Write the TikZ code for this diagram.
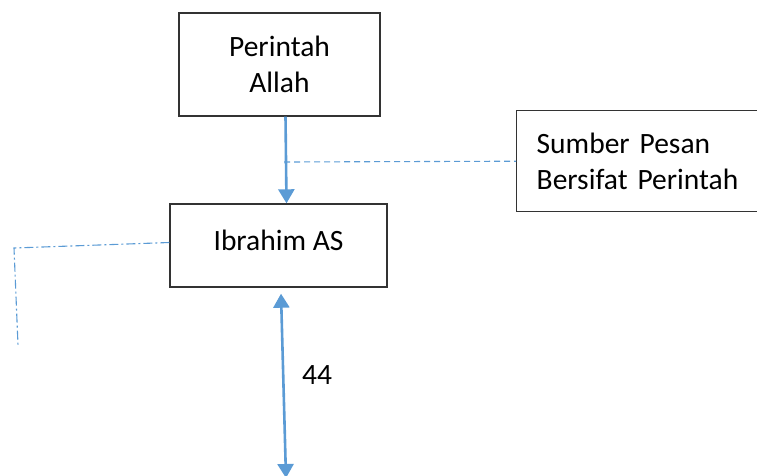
\documentclass[tikz,border=0pt]{standalone}
\usepackage{fontspec}
\setmainfont{Carlito}
\usetikzlibrary{arrows.meta}
\definecolor{garisbiru}{HTML}{5B9BD5}
\tikzset{>={Triangle[width=16pt,length=14pt]}}
\tikzset{
    kotak/.style={draw=black!80, line width=1.4pt, font=\fontsize{29.5}{36}\selectfont},
    panah/.style={draw=garisbiru, line width=2.6pt},
    putus/.style={draw=garisbiru, line width=1.1pt, dash pattern=on 6pt off 4pt},
    titikputus/.style={draw=garisbiru, line width=1.1pt, dash pattern=on 9pt off 3pt on 2pt off 3pt}
}

\begin{document}
\begin{tikzpicture}[x=1pt, y=-1pt]
    \useasboundingbox (0,0) rectangle (757,475);
    \node[kotak, minimum width=201pt, minimum height=103pt, align=center] (allah) at (279.5,64.5) {Perintah\\Allah};
    \node[kotak, minimum width=217pt, minimum height=83pt, text depth=11pt] (ibrahim) at (278.5,245.5) {Ibrahim AS};
    \node[kotak, anchor=north west, minimum height=101pt, inner xsep=20pt, text width=224pt, align=left] (sumber) at (516,110) {Sumber Pesan\\Bersifat Perintah};
    \node[font=\fontsize{29.5}{36}\selectfont] (angka) at (317,375) {44};
    \coordinate (titik) at (284,162);
    \coordinate (sudut) at (14,248);
    \coordinate (ujung) at (18,345);
    \coordinate (bawah) at (286,478);
    % panah
    \draw[panah, ->] ([xshift=6pt]allah.south) -- ([xshift=8pt]ibrahim.north);
    \draw[panah, <->] ([xshift=2.5pt, yshift=-6pt]ibrahim.south) -- (bawah);
    % garis putus-putus
    \draw[putus] (titik) -- (sumber.west);
    \draw[titikputus] ([yshift=3pt]ibrahim.west) -- (sudut) -- (ujung);
\end{tikzpicture}
\end{document}
